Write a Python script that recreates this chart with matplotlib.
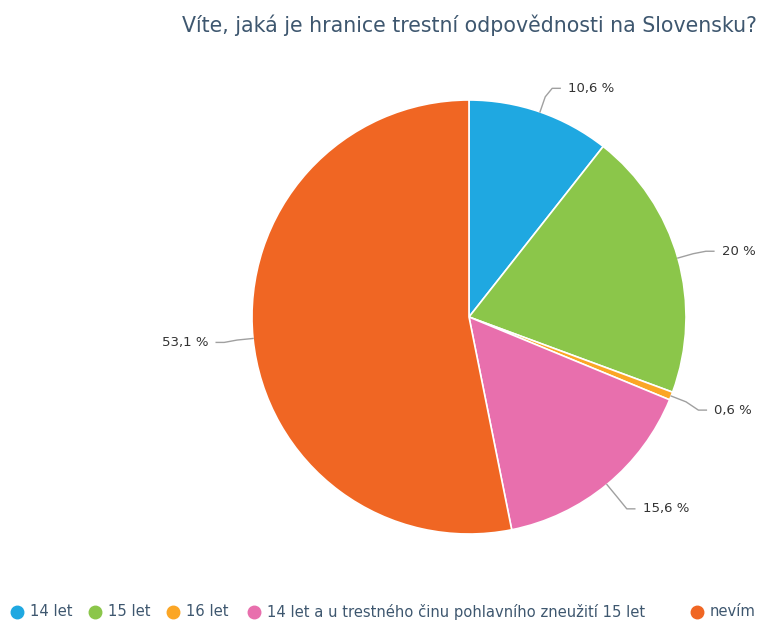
import numpy as np
import matplotlib
matplotlib.use("Agg")
import matplotlib.pyplot as plt
from matplotlib.lines import Line2D

# data
categories = ["14 let", "15 let", "16 let",
              "14 let a u trestného činu pohlavního zneužití 15 let", "nevím"]
values = [10.6, 20, 0.6, 15.6, 53.1]
labels = ["10,6 %", "20 %", "0,6 %", "15,6 %", "53,1 %"]
colors = ["#1fa8e1", "#8bc64a", "#fba625", "#e86fad", "#f06623"]

W, H = 760, 624
fig = plt.figure(figsize=(W / 100, H / 100), dpi=100)
ax = fig.add_axes([0, 0, 1, 1])
ax.set_aspect("equal")
ax.axis("off")

cx, cy, r = 469, H - 317, 217
wedges, _ = ax.pie(values, colors=colors, startangle=90, counterclock=False,
                   radius=r, center=(cx, cy),
                   wedgeprops=dict(edgecolor="white", linewidth=1.2))
ax.set_xlim(0, W)
ax.set_ylim(0, H)

# labels with connectors
total = sum(values)
cum = 0
for v, lab in zip(values, labels):
    mid = 90 - (cum + v / 2) / total * 360
    cum += v
    a = np.deg2rad(mid)
    ca, sa = np.cos(a), np.sin(a)
    x0, y0 = cx + r * ca, cy + r * sa
    x1, y1 = cx + (r + 16) * ca, cy + (r + 16) * sa
    x2, y2 = cx + (r + 25) * ca, cy + (r + 25) * sa
    if sa < 0:
        y2 -= 5 * min(1, -3 * sa)  # lower labels sit a bit lower
    side = 1 if ca >= 0 else -1
    xs = [x0, x1, x2 + side * 4, x2 + side * 12]
    ys = [y0, y1, y2, y2]
    ax.add_line(Line2D(xs, ys, color="#a0a0a0", lw=1))
    ax.text(x2 + side * 20, y2, lab, fontsize=9.5, color="#333333",
            ha="left" if side > 0 else "right", va="center")

fig.text(757 / W, 1 - 25 / H, "Víte, jaká je hranice trestní odpovědnosti na Slovensku?",
         fontsize=14.8, color="#3e576f", ha="right", va="center")

# legend, laid out in a row along the bottom
leg_x = [17, 95, 173, 254, 697]
leg_y = H - 612
for lx, c, name in zip(leg_x, colors, categories):
    ax.plot([lx], [leg_y], marker="o", ms=9, color=c, clip_on=False)
    ax.text(lx + 13, leg_y, name, fontsize=10.6, color="#3e576f",
            ha="left", va="center")

fig.savefig("out.png", dpi=100)
